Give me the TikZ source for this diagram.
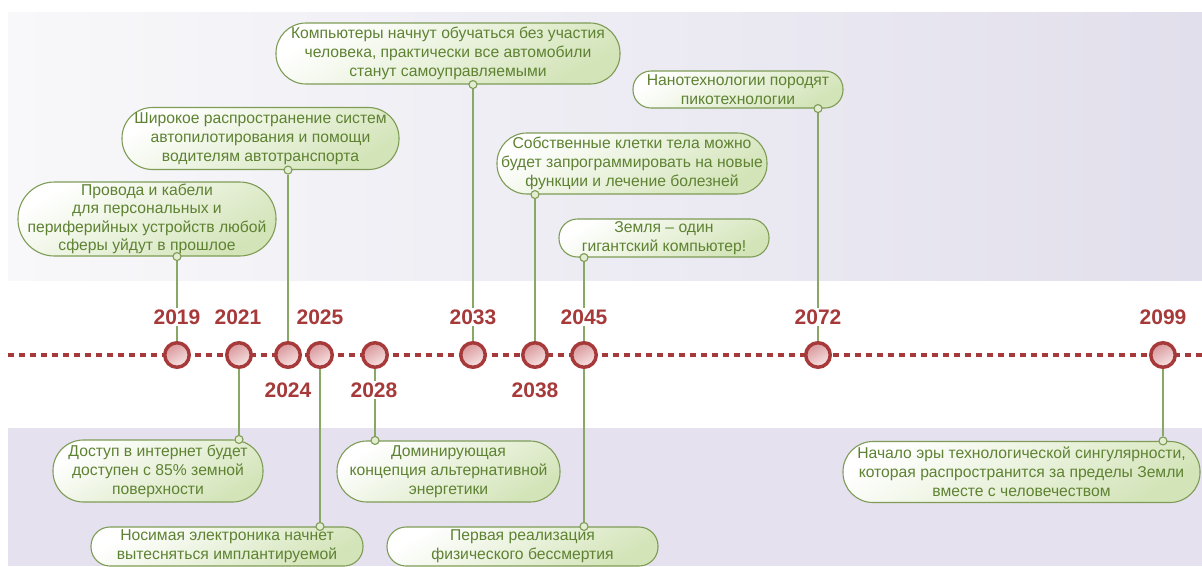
\documentclass[tikz,border=0pt]{standalone}
\usepackage{fontspec}
\setmainfont{Liberation Sans}
\definecolor{tl}{HTML}{A63A3A}
\definecolor{gtext}{HTML}{5E8232}
\definecolor{gborder}{HTML}{7E9C56}
\definecolor{gline}{HTML}{8AA865}
\definecolor{gfill}{HTML}{D3E4B8}
\definecolor{afill}{HTML}{E3EDD2}
\definecolor{bandL}{HTML}{F8F8FA}
\definecolor{bandR}{HTML}{E2DFEC}
\definecolor{bandB}{HTML}{E5E1EE}
\definecolor{cdark}{HTML}{D8969A}
\definecolor{clight}{HTML}{F9E6E6}
\pgfdeclarelayer{bg}
\pgfdeclarelayer{lines}
\pgfsetlayers{bg,lines,main}
\begin{document}
\begin{tikzpicture}[x=1pt,y=-1pt,
  box/.style={rectangle, rounded corners=#1, draw=gborder, line width=1.1pt,
    top color=white, bottom color=gfill, shading angle=30,
    text=gtext, font=\fontsize{15.7}{19}\selectfont, align=center, inner sep=0pt},
  ycirc/.style={circle, draw=tl, line width=3.5pt, minimum size=24.5pt, inner sep=0pt,
    top color=cdark, bottom color=clight, shading angle=30},
  anc/.style={circle, draw=gborder, line width=1.1pt, fill=afill, minimum size=8pt, inner sep=0pt},
  conn/.style={draw=gline, line width=1.4pt},
  yr/.style={text=tl, font=\fontsize{21}{21}\selectfont\bfseries, fill=white, inner sep=2pt},
  tline/.style={draw=tl, line width=3.5pt, dash pattern=on 6pt off 5pt}
]
\useasboundingbox (0,0) rectangle (1202,566);
\begin{pgfonlayer}{bg}
  \fill[white] (0,0) rectangle (1202,566);
  \shade[left color=bandL, right color=bandR] (8,12) rectangle (1202,280);
  \fill[bandB] (8,428) rectangle (1202,566);
\end{pgfonlayer}

% timeline
\coordinate (tl0) at (8,355);
\coordinate (tl1) at (1202,355);
\begin{pgfonlayer}{lines}
  \draw[tline] (tl0) -- (tl1);
\end{pgfonlayer}

% year circles
\node[ycirc] (c19) at (177,355) {};
\node[ycirc] (c21) at (239,355) {};
\node[ycirc] (c24) at (288,355) {};
\node[ycirc] (c25) at (320,355) {};
\node[ycirc] (c28) at (375,355) {};
\node[ycirc] (c33) at (473,355) {};
\node[ycirc] (c38) at (535,355) {};
\node[ycirc] (c45) at (584,355) {};
\node[ycirc] (c72) at (818,355) {};
\node[ycirc] (c99) at (1163,355) {};

% year labels
\node[yr] (y19) at (177,317) {2019};
\node[yr] (y21) at (238,317) {2021};
\node[yr] (y25) at (320,317) {2025};
\node[yr] (y33) at (473,317) {2033};
\node[yr] (y45) at (584,317) {2045};
\node[yr] (y72) at (818,317) {2072};
\node[yr] (y99) at (1163,317) {2099};
\node[yr] (y24) at (288,390) {2024};
\node[yr] (y28) at (374,390) {2028};
\node[yr] (y38) at (535,390) {2038};

% boxes above
\node[box=36.5pt, minimum width=258pt, minimum height=74pt, font=\fontsize{15.7}{18.5}\selectfont] (b19) at (147,219)
  {Провода и кабели\\для персональных и\\периферийных устройств любой\\сферы уйдут в прошлое};
\node[box=30.5pt, minimum width=277pt, minimum height=62pt] (b24) at (260.5,138.5)
  {Широкое распространение систем\\автопилотирования и помощи\\водителям автотранспорта};
\node[box=30pt, minimum width=344pt, minimum height=61pt] (b33) at (448,53.5)
  {Компьютеры начнут обучаться без участия\\человека, практически все автомобили\\станут самоуправляемыми};
\node[box=18pt, minimum width=210pt, minimum height=37pt] (b72) at (738,89.5)
  {Нанотехнологии породят\\пикотехнологии};
\node[box=30pt, minimum width=270pt, minimum height=61pt] (b38) at (632,163.5)
  {Собственные клетки тела можно\\будет запрограммировать на новые\\функции и лечение болезней};
\node[box=18.5pt, minimum width=210pt, minimum height=38pt] (b45t) at (664,238)
  {Земля -- один\\гигантский компьютер!};

% boxes below
\node[box=30.5pt, minimum width=210pt, minimum height=62pt] (b21) at (158,471)
  {Доступ в интернет будет\\доступен с 85\% земной\\поверхности};
\node[box=19pt, minimum width=272pt, minimum height=39pt] (b25) at (227,546.5)
  {Носимая электроника начнет\\вытесняться имплантируемой};
\node[box=30pt, minimum width=223pt, minimum height=61pt] (b28) at (448.5,471.5)
  {Доминирующая\\концепция альтернативной\\энергетики};
\node[box=19pt, minimum width=271pt, minimum height=39pt] (b45b) at (522.5,546.5)
  {Первая реализация\\физического бессмертия};
\node[box=30pt, minimum width=357pt, minimum height=61pt] (b99) at (1021.5,472)
  {Начало эры технологической сингулярности,\\которая распространится за пределы Земли\\вместе с человечеством};

% anchors
\node[anc] (a19) at (b19.south -| c19) {};
\node[anc] (a24) at (b24.south -| c24) {};
\node[anc] (a33) at (b33.south -| c33) {};
\node[anc] (a72) at (b72.south -| c72) {};
\node[anc] (a38) at (b38.south -| c38) {};
\node[anc] (a45t) at (b45t.south -| c45) {};
\node[anc] (a21) at (b21.north -| c21) {};
\node[anc] (a25) at (b25.north -| c25) {};
\node[anc] (a28) at (b28.north -| c28) {};
\node[anc] (a45b) at (b45b.north -| c45) {};
\node[anc] (a99) at (b99.north -| c99) {};

% connectors
\begin{pgfonlayer}{lines}
  \foreach \a/\c in {a19/c19, a24/c24, a33/c33, a72/c72, a38/c38, a45t/c45,
                     a21/c21, a25/c25, a28/c28, a45b/c45, a99/c99}
    \draw[conn] (\a) -- (\c);
\end{pgfonlayer}
\end{tikzpicture}
\end{document}
